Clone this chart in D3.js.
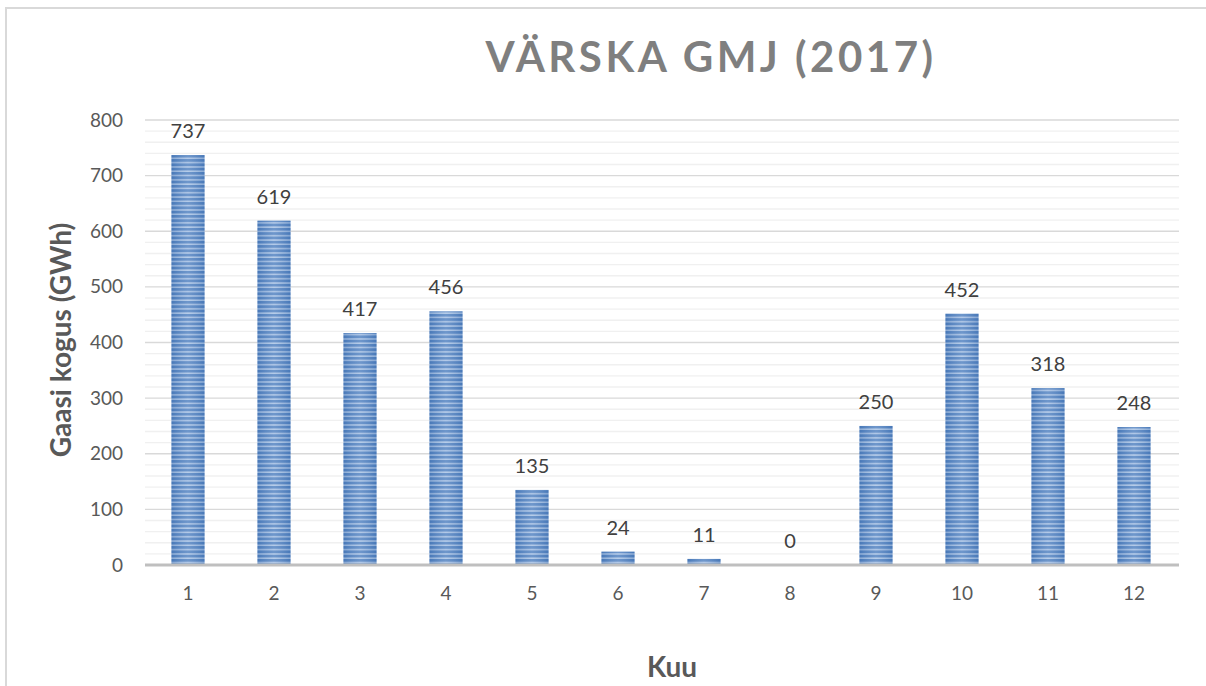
<!DOCTYPE html>
<html>
<head>
<meta charset="utf-8">
<script src="https://cdn.jsdelivr.net/npm/d3@7"></script>
<style>
  html, body { margin: 0; padding: 0; background: #fff; }
  svg { display: block; }
</style>
</head>
<body>
<svg id="chart" width="1206" height="686"></svg>
<script>
const categories = ["1","2","3","4","5","6","7","8","9","10","11","12"];
const values = [737, 619, 417, 456, 135, 24, 11, 0, 250, 452, 318, 248];
const yTicks = [0, 100, 200, 300, 400, 500, 600, 700, 800];
const minorTicks = d3.range(0, 801, 20);
const titleText = "VÄRSKA GMJ (2017)";
const yTitle = "Gaasi kogus (GWh)";
const xTitle = "Kuu";

(function () {
const svg = d3.select("#chart");
const font = "Lato, 'Open Sans', sans-serif";

const pLeft = 145, pRight = 1177, pTop = 120, pBottom = 565;

const x = d3.scaleBand().domain(categories).range([pLeft, pRight]).paddingInner(0.615).paddingOuter(0.3075);
const y = d3.scaleLinear().domain([0, 800]).range([pBottom, pTop]);

// border
svg.append("rect").attr("x", 6).attr("y", 8).attr("width", 1220).attr("height", 700)
  .attr("fill", "none").attr("stroke", "#d9d9d9").attr("stroke-width", 2);

// defs
const defs = svg.append("defs");
const pat = defs.append("pattern").attr("id", "stripes").attr("patternUnits", "userSpaceOnUse")
  .attr("width", 10).attr("height", 4.3);
pat.append("rect").attr("width", 10).attr("height", 4.3).attr("fill", "#aac4e6");
pat.append("rect").attr("y", 0).attr("width", 10).attr("height", 2.8).attr("fill", "#4f80c0");
const grad = defs.append("linearGradient").attr("id", "shine").attr("x1", "0").attr("x2", "1").attr("y1", "0").attr("y2", "0");
grad.append("stop").attr("offset", "0%").attr("stop-color", "#2e5e9e").attr("stop-opacity", 0.25);
grad.append("stop").attr("offset", "50%").attr("stop-color", "#ffffff").attr("stop-opacity", 0.18);
grad.append("stop").attr("offset", "100%").attr("stop-color", "#2e5e9e").attr("stop-opacity", 0.25);

// minor gridlines
svg.append("g").selectAll("line").data(minorTicks.filter(t => t % 100 !== 0)).join("line")
  .attr("x1", pLeft).attr("x2", pRight + 2)
  .attr("y1", d => y(d)).attr("y2", d => y(d))
  .attr("stroke", "#f0f0f0").attr("stroke-width", 1.3);

// major gridlines
svg.append("g").selectAll("line").data(yTicks.filter(t => t !== 0)).join("line")
  .attr("x1", pLeft).attr("x2", pRight + 2)
  .attr("y1", d => y(d)).attr("y2", d => y(d))
  .attr("stroke", "#d9d9d9").attr("stroke-width", 1.3);

// bars
const bars = svg.append("g");
bars.selectAll("rect.b").data(values).join("rect").attr("class", "b")
  .attr("x", (d, i) => x(categories[i])).attr("width", x.bandwidth())
  .attr("y", d => y(d)).attr("height", d => y(0) - y(d))
  .attr("fill", "url(#stripes)");
bars.selectAll("rect.s").data(values).join("rect").attr("class", "s")
  .attr("x", (d, i) => x(categories[i])).attr("width", x.bandwidth())
  .attr("y", d => y(d)).attr("height", d => y(0) - y(d))
  .attr("fill", "url(#shine)");

// axis line
svg.append("line").attr("x1", pLeft).attr("x2", pRight + 2).attr("y1", y(0)).attr("y2", y(0))
  .attr("stroke", "#bfbfbf").attr("stroke-width", 3);

// y tick labels
const yAxis = d3.axisLeft(y).tickValues(yTicks).tickSize(0).tickPadding(22);
const gy = svg.append("g").attr("transform", `translate(${pLeft},0)`).call(yAxis);
gy.select(".domain").remove();
gy.selectAll("text").attr("font-family", font).attr("font-size", 19).attr("fill", "#595959");

// x tick labels
const xAxis = d3.axisBottom(x).tickSize(0).tickPadding(22);
const gx = svg.append("g").attr("transform", `translate(0,${pBottom})`).call(xAxis);
gx.select(".domain").remove();
gx.selectAll("text").attr("font-family", font).attr("font-size", 19).attr("fill", "#595959");

// data labels
svg.append("g").selectAll("text").data(values).join("text")
  .attr("x", (d, i) => x(categories[i]) + x.bandwidth() / 2)
  .attr("y", d => y(d) - 17)
  .attr("text-anchor", "middle")
  .attr("font-family", font).attr("font-size", 20).attr("fill", "#404040")
  .text(d => d);

// title
svg.append("text").attr("x", 711).attr("y", 72).attr("text-anchor", "middle")
  .attr("font-family", font).attr("font-weight", "bold").attr("font-size", 42)
  .attr("letter-spacing", 3.5).attr("fill", "#7f7f7f").text(titleText);

// y title
svg.append("text").attr("transform", "translate(71,340) rotate(-90)").attr("text-anchor", "middle")
  .attr("font-family", font).attr("font-weight", "bold").attr("font-size", 28)
  .attr("fill", "#595959").text(yTitle);

// x title
svg.append("text").attr("x", 672).attr("y", 677).attr("text-anchor", "middle")
  .attr("font-family", font).attr("font-weight", "bold").attr("font-size", 28)
  .attr("fill", "#595959").text(xTitle);
})();
</script>
</body>
</html>
